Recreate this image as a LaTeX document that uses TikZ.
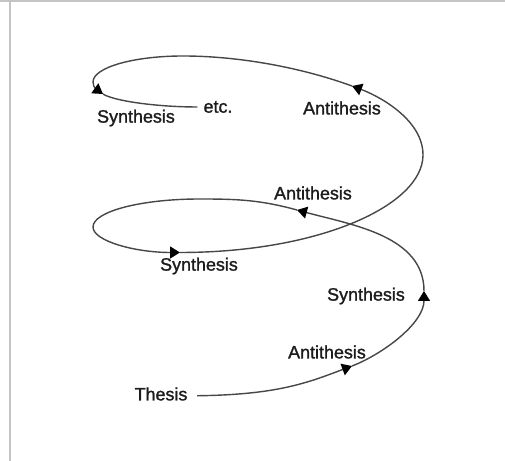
\documentclass[tikz,border=0pt]{standalone}
\usepackage{fontspec}
\setmainfont{Liberation Sans}
\newfontfamily\lblfont{Liberation Sans}[FakeBold=1.4]
\usetikzlibrary{arrows.meta}
\usepackage{xcolor}
\definecolor{linegray}{HTML}{474747}
\definecolor{framegray}{HTML}{C4C4C4}
\definecolor{textgray}{HTML}{1C1C1C}

\begin{document}
\begin{tikzpicture}[
    lbl/.style={text=textgray, font=\lblfont\fontsize{10.2}{12}\selectfont},
    spiral/.style={draw=linegray, line width=0.8pt},
    tip/.style={-{Triangle[length=0.2cm, width=0.24cm, color=black]}}
  ]
    \useasboundingbox (0,0) rectangle (10.1,9.22);

    % 枠
    \draw[framegray, line width=0.04cm] (0,9.2) -- (10.1,9.2);
    \draw[framegray, line width=0.04cm] (0.2,0) -- (0.2,9.2);

    % ラベル
    \node[lbl] (thesis) at (3.22,1.34) {Thesis};
    \node[lbl] (anti1) at (6.54,2.18) {Antithesis};
    \node[lbl] (syn1) at (7.32,3.30) {Synthesis};
    \node[lbl] (anti2) at (6.26,5.36) {Antithesis};
    \node[lbl] (syn2) at (3.98,3.90) {Synthesis};
    \node[lbl] (anti3) at (6.84,7.06) {Antithesis};
    \node[lbl] (syn3) at (2.72,6.86) {Synthesis};
    \node[lbl] (etc) at (4.36,7.08) {etc.};

    % 螺旋上の点
    \coordinate (a1) at (7.04,1.90);
    \coordinate (r1) at (8.48,3.40);
    \coordinate (a2) at (5.94,5.02);
    \coordinate (l1) at (4.0,5.24);
    \coordinate (m1) at (1.86,4.68);
    \coordinate (s1) at (3.60,4.17);
    \coordinate (r2) at (8.46,6.12);
    \coordinate (a3) at (7.04,7.50);
    \coordinate (t2) at (3.66,8.10);
    \coordinate (m2) at (1.86,7.58);
    \coordinate (a4) at (2.06,7.34);

    % 螺旋
    \draw[spiral, tip] ([xshift=2pt,yshift=-1pt]thesis.east)
        .. controls +(1.6,0.02) and +(-0.9,-0.34) .. (a1);
    \draw[spiral, tip] (a1) to[out=21, in=270, looseness=0.8] (r1);
    \draw[spiral, tip] (r1) .. controls +(0,1.1) and +(1.11,-0.30) .. (a2);
    \draw[spiral, tip] (a2) .. controls +(-0.73,0.20) and +(0.76,0) .. (l1)
        .. controls +(-1.18,0) and +(0,0.31) .. (m1)
        .. controls +(0,-0.28) and +(-0.9,0) .. (s1);
    \draw[spiral, tip] (s1) .. controls +(2.8,0) and +(0,-1.0) .. (r2)
        .. controls +(0,0.7) and +(0.56,-0.21) .. (a3);
    \draw[spiral, tip] (a3) .. controls +(-1.13,0.41) and +(1.0,0) .. (t2)
        .. controls +(-0.99,0) and +(0,0.29) .. (m2)
        to[out=270, in=145] (a4);
    \draw[spiral] (a4) .. controls +(0.21,-0.14) and +(-0.8,0) .. (etc.west);

\end{tikzpicture}
\end{document}
